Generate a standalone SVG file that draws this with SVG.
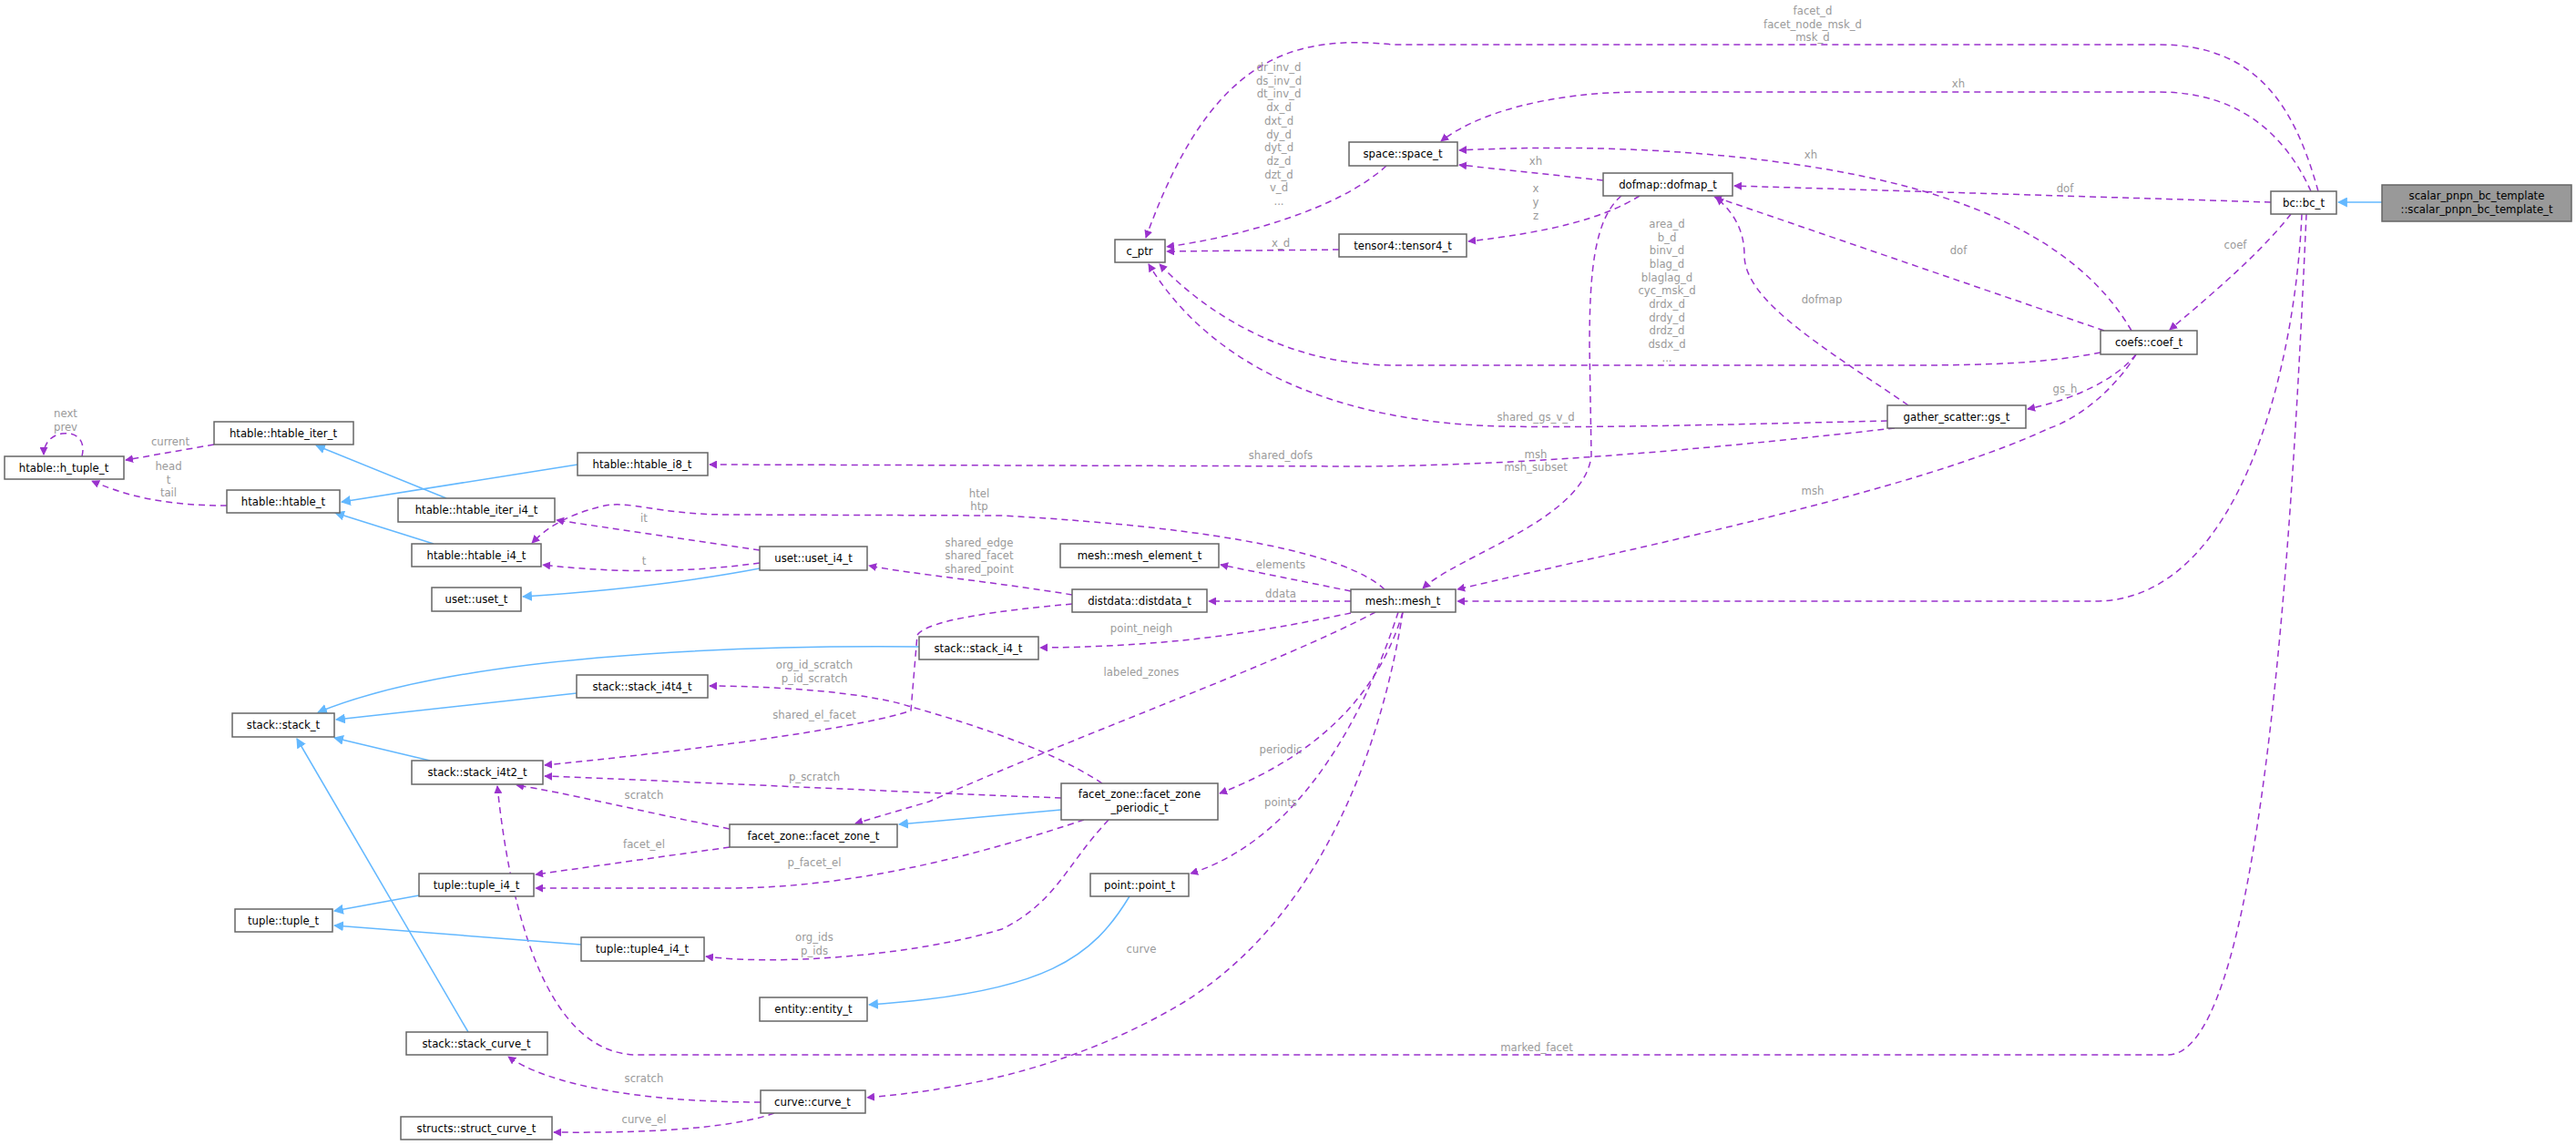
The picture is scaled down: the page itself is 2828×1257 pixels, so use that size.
<svg xmlns="http://www.w3.org/2000/svg" width="2828" height="1257" viewBox="0 0 2828 1257">
<style>
.n rect{fill:#fff;stroke:#666;stroke-width:1.5}
.n text,.l text{font-family:"DejaVu Sans Condensed","DejaVu Sans",sans-serif;font-size:13px;text-anchor:middle}
.l text{fill:#9a9a9a}
.d{fill:none;stroke:#9a32cd;stroke-width:1.5;stroke-dasharray:7,5;marker-end:url(#ap)}
.b{fill:none;stroke:#63b8ff;stroke-width:1.5;marker-end:url(#ab)}
</style>
<defs>
<marker id="ap" viewBox="0 0 10 10" refX="9" refY="5" markerWidth="9" markerHeight="9" markerUnits="userSpaceOnUse" orient="auto"><path d="M0,0L10,5L0,10z" fill="#9a32cd"/></marker>
<marker id="ab" viewBox="0 0 10 10" refX="9" refY="5" markerWidth="11" markerHeight="11" markerUnits="userSpaceOnUse" orient="auto"><path d="M0,0L10,5L0,10z" fill="#63b8ff"/></marker>
</defs>
<rect width="2828" height="1257" fill="#fff"/>
<g id="edges">
<path class="b" d="M2615,222L2567,222"/>
<path class="d" d="M2545,210C2520,120 2480,49 2370,49L1530,49C1420,38 1330,60 1258,261"/>
<path class="d" d="M2537,210C2510,150 2460,101 2370,101L1800,101C1700,101 1620,125 1582,155"/>
<path class="d" d="M2493,222L1904,204"/>
<path class="d" d="M2515,235C2480,280 2420,330 2382,362"/>
<path class="d" d="M2527,235C2520,400 2460,660 2300,660L1600,660"/>
<path class="d" d="M2532,235C2520,500 2490,1158 2380,1158L700,1158C600,1158 560,1000 546,863"/>
<path class="d" d="M2340,363C2280,260 2150,210 2000,185C1850,160 1700,160 1602,165"/>
<path class="d" d="M2310,363L1882,216"/>
<path class="d" d="M2306,387C2250,398 2190,401 2100,401L1530,401C1420,401 1330,350 1273,290"/>
<path class="d" d="M2345,389C2320,420 2270,440 2226,449"/>
<path class="d" d="M2345,389C2320,430 2280,460 2250,470C2100,540 1800,600 1600,647"/>
<path class="d" d="M1760,198L1602,181"/>
<path class="d" d="M1800,215C1760,240 1700,255 1612,265"/>
<path class="d" d="M1780,215C1750,240 1745,300 1745,380L1747,500C1740,570 1600,610 1562,646"/>
<path class="d" d="M2095,445C2000,380 1915,330 1915,280C1915,250 1900,230 1884,217"/>
<path class="d" d="M2072,462C1900,466 1750,470 1650,468C1500,465 1340,420 1261,290"/>
<path class="d" d="M2080,470C1900,490 1700,510 1500,512L779,510"/>
<path class="d" d="M1522,182C1470,230 1360,260 1281,271"/>
<path class="d" d="M1470,274L1281,276"/>
<path class="d" d="M1520,647C1480,610 1350,580 1100,566L800,565C720,565 690,548 660,556C620,566 600,580 584,596"/>
<path class="d" d="M1483,649L1340,620"/>
<path class="d" d="M1483,660L1327,660"/>
<path class="d" d="M1483,673C1400,690 1300,710 1142,711"/>
<path class="d" d="M1510,672C1400,730 1200,800 1020,880L939,904"/>
<path class="d" d="M1540,672C1520,740 1470,820 1339,871"/>
<path class="d" d="M1535,672C1500,780 1430,920 1307,959"/>
<path class="d" d="M1540,672C1520,800 1460,1000 1300,1100C1150,1190 1000,1200 952,1205"/>
<path class="d" d="M1177,653C1100,640 1000,630 954,621"/>
<path class="d" d="M1177,663C1100,670 1020,680 1007,697L1000,780C960,795 800,820 598,840"/>
<path class="d" d="M834,604L611,571"/>
<path class="d" d="M834,618C760,628 680,630 596,620"/>
<path class="b" d="M834,624C750,640 650,650 574,655"/>
<path class="b" d="M476,597L368,563"/>
<path class="b" d="M490,547L347,489"/>
<path class="b" d="M634,510L375,551"/>
<path class="d" d="M235,488L138,505"/>
<path class="d" d="M249,555C200,555 150,550 101,528"/>
<path class="d" d="M90,501C95,480 80,474 68,476C55,478 48,488 48,499"/>
<path class="b" d="M1009,710C800,708 500,720 349,782"/>
<path class="b" d="M633,761L369,790"/>
<path class="b" d="M472,835L367,810"/>
<path class="b" d="M514,1133L326,811"/>
<path class="b" d="M460,983L367,1000"/>
<path class="b" d="M638,1037L367,1016"/>
<path class="b" d="M1240,984C1200,1050 1150,1090 954,1103"/>
<path class="b" d="M1165,889L987,905"/>
<path class="d" d="M1210,860C1150,820 1050,790 997,775C950,760 850,753 779,753"/>
<path class="d" d="M1165,876C1000,870 800,860 598,852"/>
<path class="d" d="M1190,900C1100,930 950,975 800,975L588,975"/>
<path class="d" d="M1217,900C1170,950 1160,990 1100,1020C1000,1050 850,1060 775,1050"/>
<path class="d" d="M801,910C700,890 620,870 567,862"/>
<path class="d" d="M801,930L588,960"/>
<path class="d" d="M835,1210C700,1210 600,1190 558,1160"/>
<path class="d" d="M850,1222C800,1240 700,1244 608,1243"/>
</g>
<g class="l">
<text x="1990" y="16">facet_d</text><text x="1990" y="31">facet_node_msk_d</text><text x="1990" y="45">msk_d</text>
<text x="2150" y="96">xh</text><text x="2267" y="211">dof</text><text x="2454" y="273">coef</text><text x="2150" y="279">dof</text>
<text x="1988" y="174">xh</text><text x="2000" y="333">dofmap</text><text x="2267" y="431">gs_h</text><text x="1990" y="543">msh</text>
<text x="1404" y="78">dr_inv_d</text><text x="1404" y="93">ds_inv_d</text><text x="1404" y="107">dt_inv_d</text><text x="1404" y="122">dx_d</text><text x="1404" y="137">dxt_d</text><text x="1404" y="152">dy_d</text><text x="1404" y="166">dyt_d</text><text x="1404" y="181">dz_d</text><text x="1404" y="196">dzt_d</text><text x="1404" y="210">v_d</text><text x="1404" y="225">...</text>
<text x="1686" y="181">xh</text><text x="1686" y="211">x</text><text x="1686" y="226">y</text><text x="1686" y="241">z</text><text x="1406" y="271">x_d</text>
<text x="1830" y="250">area_d</text><text x="1830" y="265">b_d</text><text x="1830" y="279">binv_d</text><text x="1830" y="294">blag_d</text><text x="1830" y="309">blaglag_d</text><text x="1830" y="323">cyc_msk_d</text><text x="1830" y="338">drdx_d</text><text x="1830" y="353">drdy_d</text><text x="1830" y="367">drdz_d</text><text x="1830" y="382">dsdx_d</text><text x="1830" y="397">...</text>
<text x="1686" y="462">shared_gs_v_d</text><text x="1406" y="504">shared_dofs</text><text x="1686" y="503">msh</text><text x="1686" y="517">msh_subset</text>
<text x="1075" y="546">htel</text><text x="1075" y="560">htp</text>
<text x="1075" y="600">shared_edge</text><text x="1075" y="614">shared_facet</text><text x="1075" y="629">shared_point</text>
<text x="1406" y="624">elements</text><text x="1406" y="656">ddata</text><text x="1253" y="694">point_neigh</text><text x="1253" y="742">labeled_zones</text>
<text x="1406" y="827">periodic</text><text x="1406" y="885">points</text><text x="1253" y="1046">curve</text><text x="1687" y="1154">marked_facet</text>
<text x="72" y="458">next</text><text x="72" y="473">prev</text><text x="187" y="489">current</text>
<text x="185" y="516">head</text><text x="185" y="531">t</text><text x="185" y="545">tail</text>
<text x="707" y="573">it</text><text x="707" y="620">t</text>
<text x="894" y="734">org_id_scratch</text><text x="894" y="749">p_id_scratch</text><text x="894" y="789">shared_el_facet</text>
<text x="894" y="857">p_scratch</text><text x="707" y="877">scratch</text><text x="707" y="931">facet_el</text><text x="894" y="951">p_facet_el</text>
<text x="894" y="1033">org_ids</text><text x="894" y="1048">p_ids</text><text x="707" y="1188">scratch</text><text x="707" y="1233">curve_el</text>
</g>
<g id="scalar" class="n"><rect x="2615" y="203" width="208" height="40" style="fill:#999"/><text x="2719" y="219">scalar_pnpn_bc_template</text><text x="2719" y="234">::scalar_pnpn_bc_template_t</text></g>
<g id="bc" class="n"><rect x="2493" y="210" width="72" height="25"/><text x="2529" y="227">bc::bc_t</text></g>
<g id="coef" class="n"><rect x="2306" y="363" width="106" height="26"/><text x="2359" y="380">coefs::coef_t</text></g>
<g id="gs" class="n"><rect x="2072" y="445" width="152" height="25"/><text x="2148" y="462">gather_scatter::gs_t</text></g>
<g id="dofmap" class="n"><rect x="1760" y="190" width="142" height="25"/><text x="1831" y="207">dofmap::dofmap_t</text></g>
<g id="space" class="n"><rect x="1481" y="156" width="119" height="26"/><text x="1540" y="173">space::space_t</text></g>
<g id="tensor4" class="n"><rect x="1470" y="257" width="140" height="25"/><text x="1540" y="274">tensor4::tensor4_t</text></g>
<g id="cptr" class="n"><rect x="1224" y="263" width="55" height="25"/><text x="1251" y="280">c_ptr</text></g>
<g id="mesh" class="n"><rect x="1483" y="647" width="115" height="25"/><text x="1540" y="664">mesh::mesh_t</text></g>
<g id="meshel" class="n"><rect x="1164" y="597" width="174" height="26"/><text x="1251" y="614">mesh::mesh_element_t</text></g>
<g id="distdata" class="n"><rect x="1177" y="647" width="148" height="25"/><text x="1251" y="664">distdata::distdata_t</text></g>
<g id="stacki4" class="n"><rect x="1009" y="699" width="131" height="25"/><text x="1074" y="716">stack::stack_i4_t</text></g>
<g id="fzp" class="n"><rect x="1165" y="860" width="172" height="40"/><text x="1251" y="876">facet_zone::facet_zone</text><text x="1251" y="891">_periodic_t</text></g>
<g id="point" class="n"><rect x="1197" y="959" width="108" height="25"/><text x="1251" y="976">point::point_t</text></g>
<g id="entity" class="n"><rect x="834" y="1095" width="118" height="26"/><text x="893" y="1112">entity::entity_t</text></g>
<g id="curve" class="n"><rect x="835" y="1197" width="115" height="25"/><text x="892" y="1214">curve::curve_t</text></g>
<g id="structcurve" class="n"><rect x="440" y="1226" width="166" height="25"/><text x="523" y="1243">structs::struct_curve_t</text></g>
<g id="stackcurve" class="n"><rect x="446" y="1133" width="155" height="25"/><text x="523" y="1150">stack::stack_curve_t</text></g>
<g id="tuple4" class="n"><rect x="638" y="1029" width="135" height="26"/><text x="705" y="1046">tuple::tuple4_i4_t</text></g>
<g id="tuple" class="n"><rect x="258" y="998" width="107" height="25"/><text x="311" y="1015">tuple::tuple_t</text></g>
<g id="tuplei4" class="n"><rect x="460" y="959" width="126" height="25"/><text x="523" y="976">tuple::tuple_i4_t</text></g>
<g id="fz" class="n"><rect x="801" y="905" width="184" height="25"/><text x="893" y="922">facet_zone::facet_zone_t</text></g>
<g id="i4t2" class="n"><rect x="452" y="835" width="144" height="26"/><text x="524" y="852">stack::stack_i4t2_t</text></g>
<g id="i4t4" class="n"><rect x="633" y="741" width="144" height="25"/><text x="705" y="758">stack::stack_i4t4_t</text></g>
<g id="stack" class="n"><rect x="255" y="783" width="112" height="26"/><text x="311" y="800">stack::stack_t</text></g>
<g id="uset" class="n"><rect x="474" y="645" width="98" height="26"/><text x="523" y="662">uset::uset_t</text></g>
<g id="useti4" class="n"><rect x="834" y="600" width="118" height="26"/><text x="893" y="617">uset::uset_i4_t</text></g>
<g id="hi4" class="n"><rect x="452" y="597" width="142" height="25"/><text x="523" y="614">htable::htable_i4_t</text></g>
<g id="hiteri4" class="n"><rect x="437" y="547" width="172" height="26"/><text x="523" y="564">htable::htable_iter_i4_t</text></g>
<g id="hi8" class="n"><rect x="634" y="497" width="143" height="25"/><text x="705" y="514">htable::htable_i8_t</text></g>
<g id="htable" class="n"><rect x="249" y="538" width="124" height="25"/><text x="311" y="555">htable::htable_t</text></g>
<g id="hiter" class="n"><rect x="235" y="463" width="153" height="25"/><text x="311" y="480">htable::htable_iter_t</text></g>
<g id="htuple" class="n"><rect x="5" y="501" width="131" height="25"/><text x="70" y="518">htable::h_tuple_t</text></g>
</svg>
